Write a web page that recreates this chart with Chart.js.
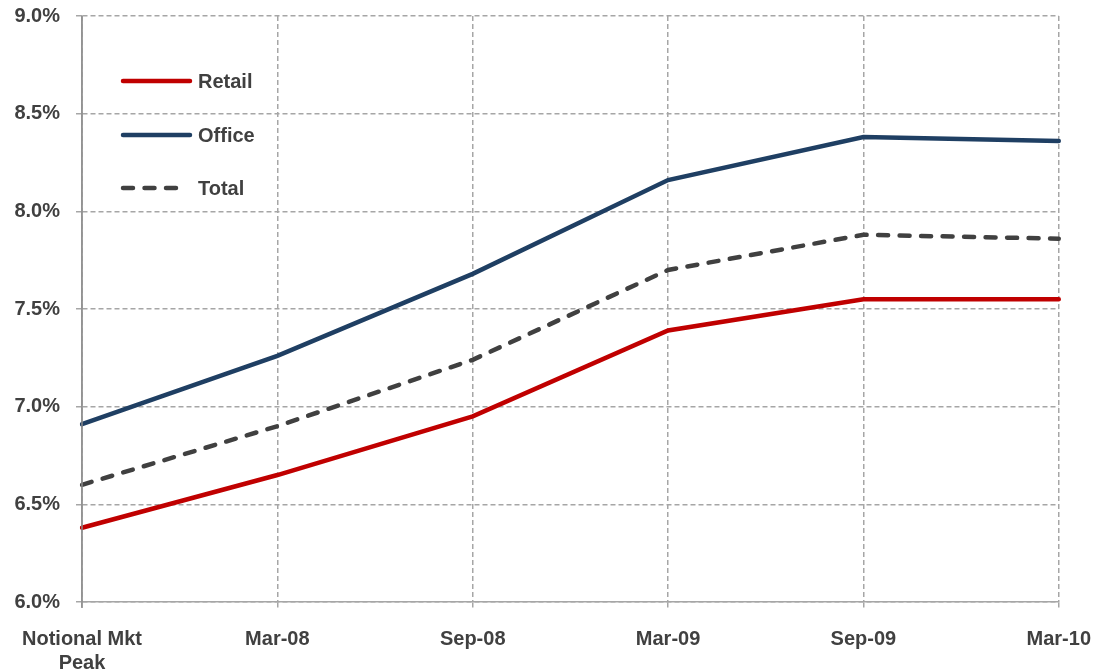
<!DOCTYPE html>
<html>
<head>
<meta charset="utf-8">
<script src="https://cdn.jsdelivr.net/npm/chart.js@4/dist/chart.umd.min.js"></script>
<style>
html,body{margin:0;padding:0;background:#fff;}
#wrap{width:1097px;height:671px;position:relative;overflow:hidden;}
#c{position:absolute;left:0;top:-12px;}
</style>
</head>
<body>
<div id="wrap"><canvas id="c" width="1110" height="683"></canvas></div>
<script>
const categories = [['Notional Mkt', 'Peak'], 'Mar-08', 'Sep-08', 'Mar-09', 'Sep-09', 'Mar-10'];
const retail = [6.38, 6.65, 6.95, 7.39, 7.55, 7.55];
const office = [6.91, 7.26, 7.68, 8.16, 8.38, 8.36];
const total  = [6.60, 6.90, 7.24, 7.70, 7.88, 7.86];
const yTicks = [6.0, 6.5, 7.0, 7.5, 8.0, 8.5, 9.0];

const FONT = 'Liberation Sans, Arial, sans-serif';
const TXT = '#404040';
const FS = 20;
const SHIFT = 12;

const legendPlugin = {
  id: 'insideLegend',
  afterDraw(chart) {
    const ctx = chart.ctx;
    const items = chart.data.datasets;
    const x0 = 123, x1 = 190, ys = [81 + SHIFT, 135 + SHIFT, 188 + SHIFT];
    ctx.save();
    items.forEach((ds, i) => {
      const y = ys[i];
      ctx.beginPath();
      ctx.strokeStyle = ds.borderColor;
      ctx.lineWidth = 4.5;
      ctx.lineCap = 'round';
      ctx.setLineDash(ds.borderDash || []);
      ctx.moveTo(x0, y);
      ctx.lineTo(ds.borderDash ? x1 - 6 : x1, y);
      ctx.stroke();
      ctx.setLineDash([]);
      ctx.fillStyle = TXT;
      ctx.font = 'bold ' + FS + 'px ' + FONT;
      ctx.textBaseline = 'middle';
      ctx.textAlign = 'left';
      ctx.fillText(ds.label, 198, y + 1);
    });
    ctx.restore();
  }
};

const axisPlugin = {
  id: 'leftAxis',
  afterDatasetsDraw(chart) {
    const ctx = chart.ctx, a = chart.chartArea;
    ctx.save();
    ctx.strokeStyle = '#8c8c8c';
    ctx.lineWidth = 1.5;
    ctx.setLineDash([]);
    ctx.beginPath();
    ctx.moveTo(a.left, a.top);
    ctx.lineTo(a.left, a.bottom + 6);
    ctx.stroke();
    ctx.restore();
  }
};

new Chart(document.getElementById('c'), {
  type: 'line',
  data: {
    labels: categories,
    datasets: [
      { label: 'Retail', data: retail, borderColor: '#c00000', borderWidth: 4.5, pointRadius: 0, tension: 0, borderCapStyle: 'round' },
      { label: 'Office', data: office, borderColor: '#1f3f63', borderWidth: 4.5, pointRadius: 0, tension: 0, borderCapStyle: 'round' },
      { label: 'Total', data: total, borderColor: '#404040', borderWidth: 4.5, borderDash: [10, 11.5], pointRadius: 0, tension: 0, borderCapStyle: 'round' }
    ]
  },
  options: {
    responsive: false,
    animation: false,
    layout: { padding: { top: 0, right: 10, bottom: 0, left: 4 } },
    plugins: { legend: { display: false }, tooltip: { enabled: false } },
    scales: {
      x: {
        offset: false,
        afterFit(axis) { axis.height = 69; },
        grid: { color: '#a6a6a6', lineWidth: 1.5, tickLength: 6, tickBorderDash: [5, 3] },
        border: { display: true, color: '#a6a6a6', dash: [5, 3], width: 1.5 },
        ticks: { color: TXT, font: { family: FONT, size: FS, weight: 'bold' }, padding: 19, maxRotation: 0, autoSkip: false, lineHeight: 1.1 }
      },
      y: {
        min: 6.0, max: 9.0,
        afterFit(axis) { axis.width = 78; },
        afterBuildTicks(axis) { axis.ticks = yTicks.map(v => ({ value: v })); },
        grid: { color: '#a6a6a6', lineWidth: 1.5, tickLength: 6, tickBorderDash: [5, 3] },
        border: { display: true, color: '#a6a6a6', dash: [5, 3], width: 1.5 },
        ticks: { color: TXT, font: { family: FONT, size: FS, weight: 'bold' }, padding: 16,
                 callback: v => Number(v).toFixed(1) + '%' }
      }
    }
  },
  plugins: [legendPlugin, axisPlugin]
});
</script>
</body>
</html>
